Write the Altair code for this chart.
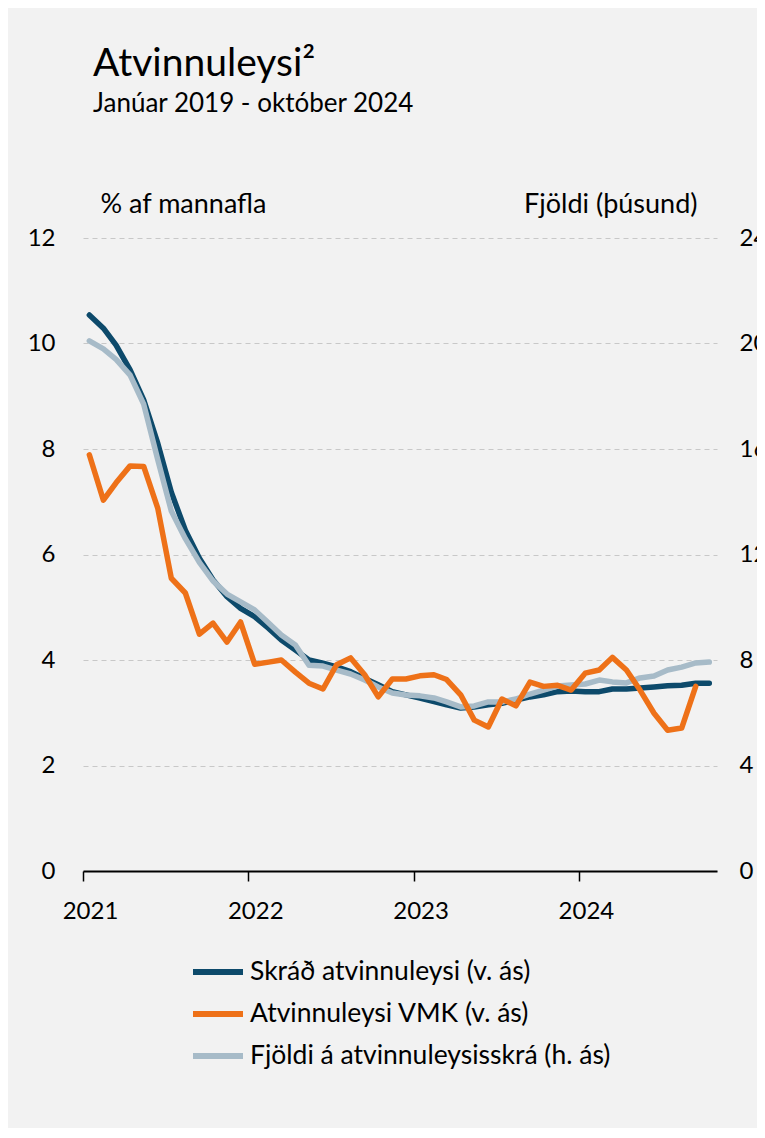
import altair as alt
import pandas as pd

# ---- data ----
months = [f"{y}-{m:02d}-15T00:00:00" for y in range(2021, 2025) for m in range(1, 13)][:46]

skrad = [10.54, 10.29, 9.97, 9.50, 8.93, 8.11, 7.18, 6.46, 5.93, 5.52, 5.20, 4.98,
         4.82, 4.60, 4.38, 4.19, 4.00, 3.94, 3.87, 3.78, 3.65, 3.53, 3.40, 3.34,
         3.28, 3.21, 3.15, 3.09, 3.11, 3.15, 3.18, 3.24, 3.30, 3.34, 3.40, 3.41,
         3.40, 3.40, 3.45, 3.45, 3.47, 3.49, 3.51, 3.52, 3.56, 3.56]

vmk = [7.89, 7.03, 7.36, 7.68, 7.67, 6.88, 5.55, 5.27, 4.49, 4.70, 4.34, 4.72,
       3.92, 3.96, 4.00, 3.77, 3.56, 3.45, 3.91, 4.04, 3.72, 3.30, 3.64, 3.64,
       3.70, 3.72, 3.63, 3.34, 2.86, 2.73, 3.26, 3.13, 3.58, 3.50, 3.52, 3.43,
       3.75, 3.81, 4.05, 3.81, 3.43, 2.99, 2.67, 2.71, 3.50]

fjoldi = [20.1, 19.8, 19.4, 18.8, 17.7, 15.6, 13.65, 12.6, 11.7, 11.0, 10.5, 10.2,
          9.9, 9.4, 8.95, 8.57, 7.8, 7.77, 7.62, 7.47, 7.24, 6.98, 6.75, 6.67,
          6.64, 6.56, 6.41, 6.22, 6.26, 6.41, 6.41, 6.52, 6.71, 6.86, 7.01, 7.05,
          7.09, 7.24, 7.17, 7.13, 7.32, 7.39, 7.62, 7.73, 7.89, 7.92]

series_names = ["Skráð atvinnuleysi (v. ás)",
                "Atvinnuleysi VMK (v. ás)",
                "Fjöldi á atvinnuleysisskrá (h. ás)"]
series_colors = ["#0d4a6b", "#ee7118", "#a7bbc8"]

left_ticks = [0, 2, 4, 6, 8, 10, 12]
right_ticks = [0, 4, 8, 12, 16, 20, 24]
year_ticks = [2021, 2022, 2023, 2024]

df_skrad = pd.DataFrame({"date": months, "value": skrad, "series": series_names[0]})
df_vmk = pd.DataFrame({"date": months[:len(vmk)], "value": vmk, "series": series_names[1]})
df_fjoldi = pd.DataFrame({"date": months, "value": fjoldi, "series": series_names[2]})

FONT = "Lato"
TICK_FS = 24
AXTITLE_FS = 27

x_enc = alt.X(
    "date:T",
    scale=alt.Scale(domain=[alt.DateTime(year=2021, month=1, date=1),
                            alt.DateTime(year=2024, month=11, date=1)]),
    axis=alt.Axis(
        values=[alt.DateTime(year=y, month=1, date=1) for y in year_ticks],
        format="%Y", title=None, labelAngle=0, labelFlush=False,
        labelFont=FONT, labelFontSize=TICK_FS, labelColor="black",
        tickColor="black", tickSize=10, tickWidth=1.5,
        domainColor="black", domainWidth=2,
        labelOffset=7, labelPadding=18, grid=False,
    ),
)

color_enc = alt.Color(
    "series:N",
    scale=alt.Scale(domain=series_names, range=series_colors),
    legend=alt.Legend(
        orient="none", legendX=107, legendY=706, title=None,
        symbolType="stroke", symbolSize=2500, symbolStrokeWidth=6,
        symbolOpacity=1, labelFont=FONT, labelFontSize=26.5, labelColor="black",
        rowPadding=0, labelOffset=4, labelLimit=600,
    ),
)

line_kw = dict(strokeWidth=5.5, strokeCap="round", strokeJoin="round")

left_axis = alt.Axis(
    values=left_ticks, title="% af mannafla", titleAngle=0, titleAlign="left",
    titleBaseline="middle", titleX=17, titleY=-34, titleFont=FONT,
    titleFontSize=AXTITLE_FS, titleFontWeight="normal", titleColor="black",
    labelFont=FONT, labelFontSize=TICK_FS, labelColor="black",
    ticks=False, tickSize=0, domain=False, labelPadding=28,
    grid=True, gridColor="#c8c8c8", gridDash=[5, 4], gridWidth=1,
)

right_axis = alt.Axis(
    orient="right", values=right_ticks, title="Fjöldi (þúsund)", titleAngle=0,
    titleAlign="right", titleBaseline="middle", titleX=-20, titleY=-34,
    titleFont=FONT, titleFontSize=AXTITLE_FS, titleFontWeight="normal",
    titleColor="black",
    labelFont=FONT, labelFontSize=TICK_FS, labelColor="black",
    ticks=False, tickSize=0, domain=False, labelPadding=22, grid=False,
)

l_skrad = alt.Chart(df_skrad).mark_line(**line_kw).encode(
    x=x_enc,
    y=alt.Y("value:Q", scale=alt.Scale(domain=[0, 12]), axis=left_axis),
    color=color_enc,
)

l_fjoldi = alt.Chart(df_fjoldi).mark_line(**line_kw).encode(
    x=x_enc,
    y=alt.Y("value:Q", scale=alt.Scale(domain=[0, 24]), axis=right_axis),
    color=color_enc,
)

l_vmk = alt.Chart(df_vmk).mark_line(**line_kw).encode(
    x=x_enc,
    y=alt.Y("value:Q", scale=alt.Scale(domain=[0, 12]), axis=None),
    color=color_enc,
)

chart = (
    alt.layer(l_skrad, l_fjoldi, l_vmk)
    .resolve_scale(y="independent")
    .properties(
        width=634, height=633,
        title=alt.TitleParams(
            text="Atvinnuleysi²", subtitle="Janúar 2019 - október 2024",
            anchor="start", frame="group", dx=10, offset=73,
            font=FONT, fontSize=39, fontWeight="normal", color="black",
            subtitleFont=FONT, subtitleFontSize=26, subtitleColor="black",
            subtitlePadding=7,
        ),
        autosize=alt.AutoSizeParams(type="none"),
        padding={"left": 75, "top": 230, "right": 40, "bottom": 257},
        background="#f2f2f2",
    )
    .configure_view(stroke=None)
)

chart.save("out.html", embed_options={"renderer": "svg", "actions": False})
